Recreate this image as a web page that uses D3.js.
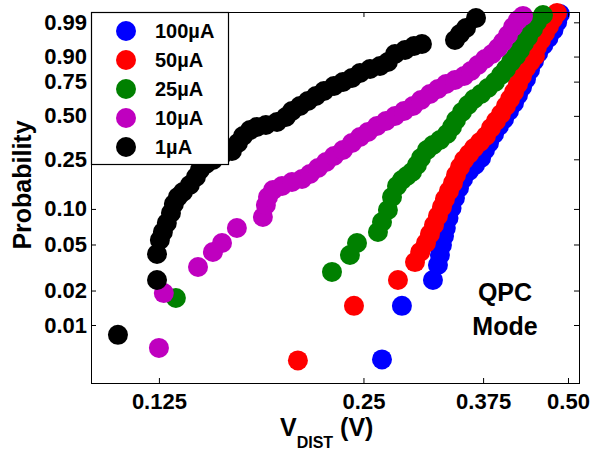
<!DOCTYPE html>
<html>
<head>
<meta charset="utf-8">
<script src="https://cdn.jsdelivr.net/npm/d3@7"></script>
<style>
  body { margin: 0; background: #fff; }
  text { font-family: Arial, "Liberation Sans", sans-serif; font-weight: bold; fill: #000; }
</style>
</head>
<body>
<script>
// cumulative failure data (V in volts, P = probability)
var seriesNames = ["100\u00b5A", "50\u00b5A", "25\u00b5A", "10\u00b5A", "1\u00b5A"];
var seriesColors = ["#0000ff", "#ff0000", "#008000", "#bf00bf", "#000000"];

var v100 = [0.2662, 0.2848, 0.3164, 0.3218, 0.3240, 0.3262, 0.3285, 0.3305, 0.3335, 0.3370, 0.3409, 0.3456, 0.3504, 0.3575, 0.3649, 0.3724, 0.3774, 0.3826, 0.3892, 0.3958, 0.4026, 0.4094, 0.4164, 0.4221, 0.4279, 0.4337, 0.4396, 0.4456, 0.4520, 0.4600, 0.4680, 0.4760, 0.4820, 0.4866];
var p100 = [0.0050, 0.0147, 0.0247, 0.0333, 0.0406, 0.0495, 0.0591, 0.0691, 0.0840, 0.1018, 0.1232, 0.1487, 0.1756, 0.2032, 0.2262, 0.2558, 0.2934, 0.3298, 0.3814, 0.4315, 0.4783, 0.5347, 0.5932, 0.6527, 0.7116, 0.7683, 0.8269, 0.8781, 0.9158, 0.9455, 0.9650, 0.9806, 0.9903, 0.9957];

var v50 = [0.2002, 0.2421, 0.2810, 0.2977, 0.3030, 0.3090, 0.3132, 0.3175, 0.3218, 0.3262, 0.3295, 0.3340, 0.3386, 0.3421, 0.3468, 0.3515, 0.3575, 0.3636, 0.3711, 0.3786, 0.3851, 0.3917, 0.3984, 0.4052, 0.4108, 0.4164, 0.4221, 0.4278, 0.4336, 0.4400, 0.4470, 0.4501, 0.4563, 0.4625, 0.4688, 0.4752, 0.4817];
var p50 = [0.0049, 0.0147, 0.0247, 0.0353, 0.0431, 0.0515, 0.0615, 0.0733, 0.0873, 0.1038, 0.1209, 0.1406, 0.1631, 0.1890, 0.2183, 0.2470, 0.2741, 0.3035, 0.3353, 0.3695, 0.4186, 0.4646, 0.5132, 0.5711, 0.6230, 0.6749, 0.7332, 0.7885, 0.8391, 0.8728, 0.9026, 0.9389, 0.9600, 0.9755, 0.9861, 0.9927, 0.9962];

var v25 = [0.1324, 0.2247, 0.2388, 0.2446, 0.2626, 0.2662, 0.2716, 0.2754, 0.2801, 0.2848, 0.2897, 0.2947, 0.2997, 0.3038, 0.3100, 0.3164, 0.3240, 0.3318, 0.3375, 0.3421, 0.3491, 0.3563, 0.3636, 0.3723, 0.3812, 0.3904, 0.3984, 0.4052, 0.4122, 0.4192, 0.4249, 0.4307, 0.4366, 0.4441, 0.4501, 0.4594];
var p25 = [0.0172, 0.0290, 0.0406, 0.0515, 0.0639, 0.0777, 0.0980, 0.1255, 0.1543, 0.1724, 0.1855, 0.1995, 0.2262, 0.2558, 0.2934, 0.3191, 0.3464, 0.3814, 0.4250, 0.4714, 0.5274, 0.5785, 0.6230, 0.6601, 0.7043, 0.7474, 0.7951, 0.8331, 0.8728, 0.9026, 0.9279, 0.9517, 0.9673, 0.9821, 0.9903, 0.9952];

var v10 = [0.1250, 0.1271, 0.1427, 0.1501, 0.1548, 0.1628, 0.1778, 0.1796, 0.1809, 0.1840, 0.1897, 0.1962, 0.2030, 0.2085, 0.2143, 0.2202, 0.2262, 0.2332, 0.2404, 0.2471, 0.2538, 0.2617, 0.2698, 0.2782, 0.2868, 0.2957, 0.3038, 0.3132, 0.3218, 0.3307, 0.3409, 0.3515, 0.3599, 0.3685, 0.3774, 0.3865, 0.3944, 0.4011, 0.4080, 0.4150, 0.4221, 0.4293];
var p10 = [0.0063, 0.0190, 0.0320, 0.0431, 0.0515, 0.0691, 0.0856, 0.1078, 0.1255, 0.1432, 0.1543, 0.1662, 0.1756, 0.1924, 0.2144, 0.2385, 0.2648, 0.2934, 0.3298, 0.3637, 0.3936, 0.4315, 0.4646, 0.4991, 0.5347, 0.5711, 0.6156, 0.6601, 0.6970, 0.7332, 0.7614, 0.7885, 0.8208, 0.8564, 0.8883, 0.9115, 0.9353, 0.9546, 0.9716, 0.9848, 0.9920, 0.9947];

var v1 = [0.1088, 0.1242, 0.1242, 0.1254, 0.1267, 0.1284, 0.1302, 0.1315, 0.1333, 0.1356, 0.1388, 0.1417, 0.1436, 0.1466, 0.1501, 0.1548, 0.1601, 0.1634, 0.1662, 0.1702, 0.1742, 0.1796, 0.1865, 0.1922, 0.1962, 0.2016, 0.2071, 0.2128, 0.2187, 0.2262, 0.2332, 0.2404, 0.2471, 0.2556, 0.2644, 0.2716, 0.2782, 0.2878, 0.2967, 0.3048, 0.3409, 0.3467, 0.3539, 0.3661];
var p1 = [0.0082, 0.0247, 0.0414, 0.0546, 0.0639, 0.0762, 0.0925, 0.1099, 0.1255, 0.1379, 0.1572, 0.1822, 0.2069, 0.2302, 0.2470, 0.2694, 0.2885, 0.3298, 0.3695, 0.4059, 0.4250, 0.4380, 0.4579, 0.4921, 0.5347, 0.5711, 0.6081, 0.6452, 0.6824, 0.7189, 0.7474, 0.7751, 0.8081, 0.8331, 0.8508, 0.8728, 0.9115, 0.9279, 0.9423, 0.9487, 0.9600, 0.9736, 0.9835, 0.9934];

var xTicks = [0.125, 0.25, 0.375, 0.5];
var xTickLabels = ["0.125", "0.25", "0.375", "0.50"];
var yTicks = [0.01, 0.02, 0.05, 0.10, 0.25, 0.50, 0.75, 0.90, 0.99];
var yTickLabels = ["0.01", "0.02", "0.05", "0.10", "0.25", "0.50", "0.75", "0.90", "0.99"];

var allV = [v100, v50, v25, v10, v1];
var allP = [p100, p50, p25, p10, p1];

var width = 592, height = 451;
var plotL = 91, plotR = 579, plotT = 12, plotB = 383;

// weibull probability paper
function weib(p) { return Math.log(-Math.log(1 - p)); }

var svg = d3.select("body").append("svg")
    .attr("width", width)
    .attr("height", height);

var x = d3.scaleLog().domain([0.0993, 0.519]).range([plotL, plotR]);
var y = d3.scaleLinear().domain([-5.774, 1.736]).range([plotB, plotT]);

// points, first series at the back
allV.forEach(function (vs, i) {
    svg.append("g")
        .selectAll("circle")
        .data(vs.map(function (v, j) { return [v, allP[i][j]]; }))
        .enter()
        .append("circle")
        .attr("cx", function (d) { return x(d[0]); })
        .attr("cy", function (d) { return y(weib(d[1])); })
        .attr("r", 10)
        .attr("fill", seriesColors[i]);
});

// axes with inward ticks
var xAxis = d3.axisBottom(x).tickValues(xTicks).tickSizeInner(-5).tickSizeOuter(0).tickPadding(10)
    .tickFormat(function (d, i) { return xTickLabels[i]; });
svg.append("g").attr("transform", "translate(0," + plotB + ")").call(xAxis);

var yAxis = d3.axisLeft(y).tickValues(yTicks.map(weib)).tickSizeInner(-5).tickSizeOuter(0).tickPadding(4)
    .tickFormat(function (d, i) { return yTickLabels[i]; });
svg.append("g").attr("transform", "translate(" + plotL + ",0)").call(yAxis);

svg.append("g").attr("transform", "translate(0," + plotT + ")")
    .call(d3.axisTop(x).tickValues(xTicks).tickSizeInner(-5).tickSizeOuter(0).tickFormat(""));
svg.append("g").attr("transform", "translate(" + plotR + ",0)")
    .call(d3.axisRight(y).tickValues(yTicks.map(weib)).tickSizeInner(-5).tickSizeOuter(0).tickFormat(""));

svg.selectAll(".domain").remove();
svg.selectAll(".tick line").attr("stroke", "#000");
svg.selectAll(".tick text")
    .style("font-family", "Arial, 'Liberation Sans', sans-serif")
    .style("font-weight", "bold")
    .style("font-size", "22px")
    .attr("fill", "#000");

svg.append("rect")
    .attr("x", plotL + 0.5).attr("y", plotT + 0.5)
    .attr("width", plotR - plotL).attr("height", plotB - plotT)
    .attr("fill", "none").attr("stroke", "#000").attr("stroke-width", 1);

// legend
var legend = svg.append("g");
legend.append("rect")
    .attr("x", plotL + 0.5).attr("y", plotT + 0.5)
    .attr("width", 137).attr("height", 152)
    .attr("fill", "#fff").attr("stroke", "#000").attr("stroke-width", 1.2);

var rowY = d3.scalePoint().domain(seriesNames).range([31, 147]);
seriesNames.forEach(function (name, i) {
    legend.append("circle")
        .attr("cx", 126).attr("cy", rowY(name))
        .attr("r", 10).attr("fill", seriesColors[i]);
    legend.append("text")
        .attr("x", 155).attr("y", rowY(name) + 7)
        .style("font-size", "20px")
        .text(name);
});

// axis titles
svg.append("text")
    .attr("transform", "translate(31,185) rotate(-90)")
    .attr("text-anchor", "middle")
    .style("font-size", "25px")
    .text("Probability");

var xt = svg.append("text")
    .attr("x", 280).attr("y", 436)
    .style("font-size", "25px");
xt.append("tspan").text("V");
xt.append("tspan").attr("dy", 12).style("font-size", "16px").text("DIST");
xt.append("tspan").attr("dy", -12).text(" (V)");

svg.append("text")
    .attr("x", 505).attr("y", 301)
    .attr("text-anchor", "middle")
    .style("font-size", "25px")
    .text("QPC");
svg.append("text")
    .attr("x", 505).attr("y", 335)
    .attr("text-anchor", "middle")
    .style("font-size", "25px")
    .text("Mode");
</script>
</body>
</html>
